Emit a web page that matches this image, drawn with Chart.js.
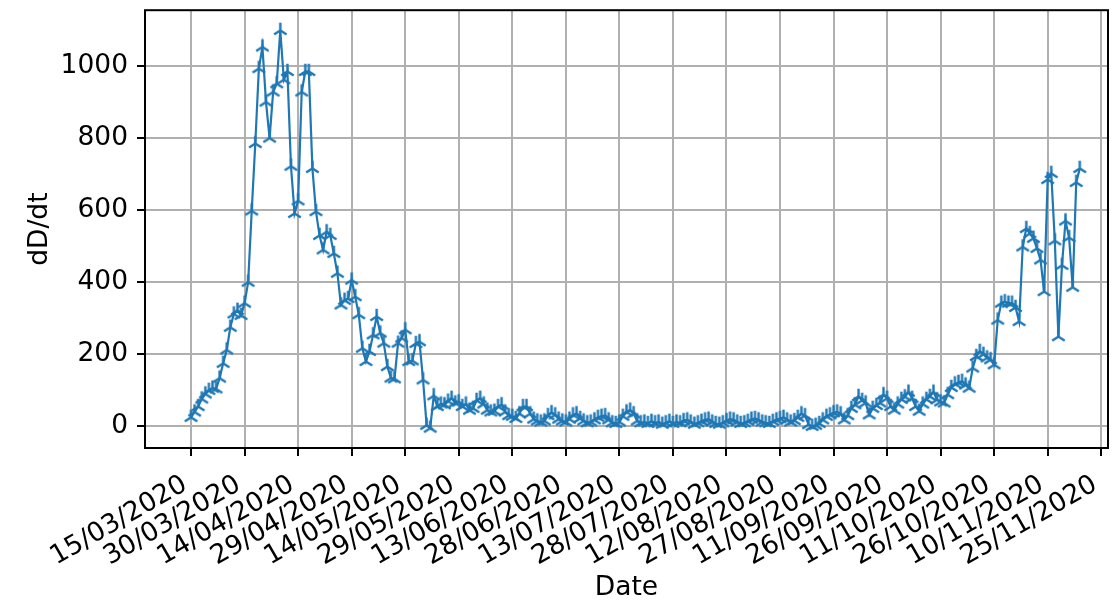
<!DOCTYPE html>
<html>
<head>
<meta charset="utf-8">
<script src="https://cdn.jsdelivr.net/npm/chart.js@4.4.1/dist/chart.umd.min.js"></script>
<style>
    body { margin: 0; background: #fff; }
    canvas { display: block; }
</style>
</head>
<body>
<canvas id="deathsChart" width="1120" height="601"></canvas>
<script>
// daily deaths, one value per day starting 15/03/2020
const dailyDeaths = [
    25, 40, 55, 76, 90, 100, 106, 104, 134, 175,
    212, 275, 312, 322, 308, 342, 400, 598, 785, 993,
    1053, 900, 800, 928, 951, 1099, 962, 985, 722, 591,
    626, 928, 985, 985, 716, 596, 530, 490, 540, 530,
    480, 425, 337, 350, 355, 406, 360, 310, 217, 180,
    208, 254, 305, 259, 231, 166, 134, 132, 231, 245,
    268, 180, 182, 230, 235, 129, 3, -5, 85, 55,
    62, 60, 70, 78, 65, 68, 55, 62, 45, 50,
    72, 78, 62, 45, 40, 42, 55, 60, 40, 30,
    28, 22, 35, 55, 55, 35, 20, 15, 12, 15,
    30, 38, 32, 20, 15, 12, 20, 32, 35, 22,
    15, 10, 12, 18, 25, 28, 30, 18, 10, 8,
    12, 28, 40, 45, 35, 15, 10, 12, 8, 14,
    10, 12, 6, 10, 14, 8, 12, 10, 16, 18,
    12, 6, 10, 14, 18, 20, 12, 8, 6, 10,
    16, 20, 18, 12, 8, 10, 14, 20, 22, 18,
    12, 10, 8, 14, 18, 22, 25, 18, 12, 16,
    25, 35, 30, 5, 0, 3, 8, 18, 28, 32,
    38, 40, 35, 18, 30, 50, 60, 83, 72, 65,
    32, 50, 58, 65, 88, 78, 55, 45, 62, 75,
    82, 95, 78, 55, 42, 62, 75, 83, 95, 74,
    68, 65, 88, 108, 118, 122, 125, 115, 106, 162,
    194, 208, 200, 190, 185, 171, 295, 342, 346, 342,
    342, 330, 291, 498, 549, 535, 522, 494, 462, 374,
    685, 702, 515, 249, 447, 570, 524, 386, 677, 716
];

// x tick positions (days after 15/03/2020) and their labels
const tickDays = [0, 15, 30, 45, 60, 75, 90, 105, 120, 135, 150, 165, 180, 195, 210, 225, 240, 255];
const tickLabels = [
    '15/03/2020', '30/03/2020', '14/04/2020', '29/04/2020', '14/05/2020', '29/05/2020',
    '13/06/2020', '28/06/2020', '13/07/2020', '28/07/2020', '12/08/2020', '27/08/2020',
    '11/09/2020', '26/09/2020', '11/10/2020', '26/10/2020', '10/11/2020', '25/11/2020'
];
const yTicks = [0, 200, 400, 600, 800, 1000];

document.addEventListener('DOMContentLoaded', function() {

    const blue = '#1f77b4';
    const font = { family: 'DejaVu Sans', size: 26.5 };

    // matplotlib "tri_up" marker
    function triUp(r, lw, color) {
        const c = document.createElement('canvas');
        const size = Math.ceil(2 * (r + lw));
        c.width = size;
        c.height = size;
        const g = c.getContext('2d');
        const m = size / 2;
        g.strokeStyle = color;
        g.lineWidth = lw;
        g.beginPath();
        g.moveTo(m, m); g.lineTo(m, m - r);
        g.moveTo(m, m); g.lineTo(m - 0.8 * r, m + 0.5 * r);
        g.moveTo(m, m); g.lineTo(m + 0.8 * r, m + 0.5 * r);
        g.stroke();
        return c;
    }

    const frame = {
        id: 'frame',
        afterDatasetsDraw(chart) {
            const a = chart.chartArea;
            const ctx = chart.ctx;
            ctx.save();
            ctx.strokeStyle = '#000';
            ctx.lineWidth = 2;
            ctx.strokeRect(a.left, a.top, a.right - a.left, a.bottom - a.top);
            ctx.restore();
        }
    };

    const points = dailyDeaths.map((v, i) => ({ x: i, y: v }));

    const config = {
        type: 'line',
        data: {
            datasets: [{
                data: points,
                borderColor: blue,
                borderWidth: 2.2,
                pointStyle: triUp(7.8, 2.4, blue),
                pointRadius: 8,
                tension: 0
            }]
        },
        options: {
            responsive: false,
            animation: false,
            devicePixelRatio: 1,
            layout: { padding: { top: 7, right: 12, left: 0, bottom: 0 } },
            plugins: { legend: { display: false }, tooltip: { enabled: false } },
            scales: {
                x: {
                    type: 'linear',
                    min: -12.9,
                    max: 256.9,
                    afterBuildTicks: axis => { axis.ticks = tickDays.map(v => ({ value: v })); },
                    afterFit: axis => {
                        axis.height = 153;
                        axis.paddingLeft = 0;
                        axis.paddingRight = 0;
                    },
                    ticks: {
                        color: '#000',
                        font: font,
                        minRotation: 30,
                        maxRotation: 30,
                        padding: 13,
                        labelOffset: -6,
                        autoSkip: false,
                        callback: (value) => tickLabels[tickDays.indexOf(value)]
                    },
                    grid: { color: '#b0b0b0', lineWidth: 2, tickColor: '#000', tickWidth: 2, tickLength: 8 },
                    border: { display: false },
                    title: { display: true, text: 'Date', color: '#000', font: font, padding: { top: 0, bottom: -3 } }
                },
                y: {
                    min: -60,
                    max: 1155,
                    afterBuildTicks: axis => { axis.ticks = yTicks.map(v => ({ value: v })); },
                    afterFit: axis => {
                        axis.width = 145;
                        axis.paddingTop = 0;
                        axis.paddingBottom = 0;
                    },
                    ticks: { color: '#000', font: font, padding: 9, callback: (value) => String(value) },
                    grid: { color: '#b0b0b0', lineWidth: 2, tickColor: '#000', tickWidth: 2, tickLength: 8 },
                    border: { display: false },
                    title: { display: true, text: 'dD/dt', color: '#000', font: font, padding: { top: 24, bottom: 0 } }
                }
            }
        },
        plugins: [frame]
    };

    new Chart(document.getElementById('deathsChart'), config);
});
</script>
</body>
</html>
